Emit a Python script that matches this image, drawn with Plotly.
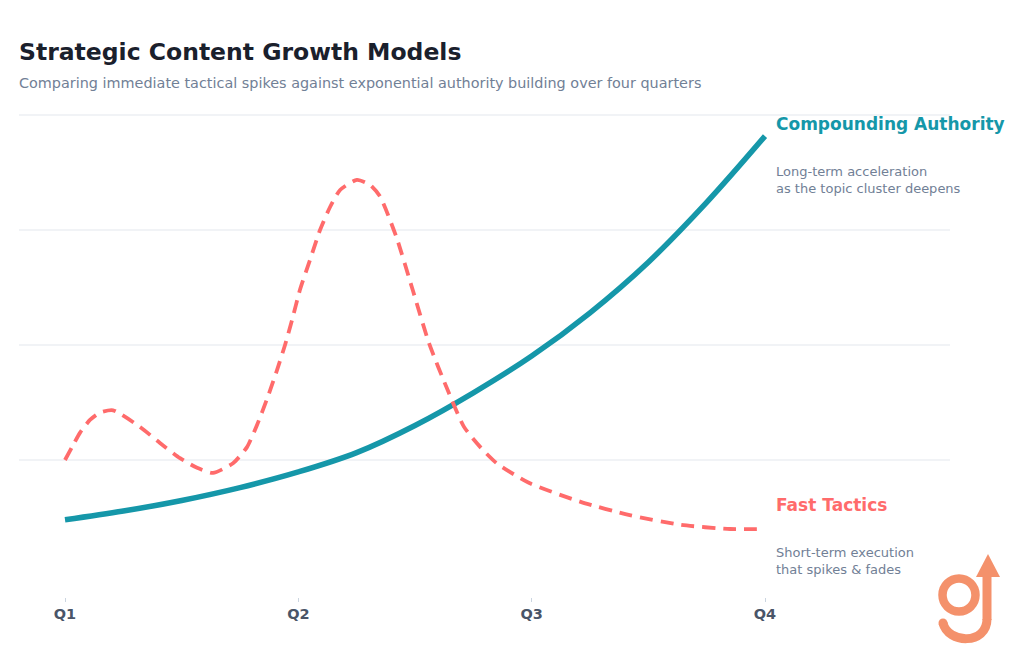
import plotly.graph_objects as go

W, H = 1024, 665

# ---- data ----
quarters = [1, 2, 3, 4]
quarter_labels = ["Q1", "Q2", "Q3", "Q4"]

authority_t = [1.0, 1.25, 1.5, 1.75, 2.0, 2.25, 2.5, 2.75, 3.0, 3.25, 3.5, 3.75, 4.0]
authority_v = [12.0, 13.9, 16.2, 19.0, 22.4, 26.6, 32.5, 39.6, 47.6, 57.0, 68.0, 81.0, 95.4]

tactics_t = [1.0, 1.03, 1.064, 1.107, 1.15, 1.206, 1.321, 1.407, 1.493, 1.566, 1.634, 1.72,
             1.78, 1.823, 1.866, 1.909, 1.943, 1.973, 2.007, 2.05, 2.093, 2.136, 2.179, 2.251,
             2.307, 2.35, 2.42, 2.49, 2.56, 2.64, 2.71, 2.78, 2.85, 2.99, 3.21, 3.42, 3.64,
             3.85, 4.0]
tactics_v = [25.0, 27.8, 30.9, 33.7, 35.3, 35.8, 32.2, 28.7, 25.4, 23.3, 22.2, 24.3,
             27.8, 32.6, 38.3, 44.6, 50.0, 55.4, 62.0, 68.5, 75.0, 80.0, 83.7, 85.9,
             84.8, 82.3, 73.5, 62.0, 50.4, 40.2, 32.2, 27.8, 24.3, 20.0, 15.9, 13.0, 10.9,
             10.0, 10.0]

grid_vals = [25, 50, 75, 100]

TEAL = "#1597A9"
CORAL = "#FF6B6B"
LOGO = "#F4916B"
DARK = "#1A202C"
GRAY = "#718096"
TICK = "#4A5568"
FONT = "DejaVu Sans"


def px(x):
    return x / W


def py(y):
    return 1 - y / H


fig = go.Figure()

fig.add_trace(go.Scatter(
    x=authority_t, y=authority_v, mode="lines",
    line=dict(color=TEAL, width=5.5, shape="spline", smoothing=1.0),
    hoverinfo="skip", showlegend=False,
))
fig.add_trace(go.Scatter(
    x=tactics_t, y=tactics_v, mode="lines",
    line=dict(color=CORAL, width=3.8, dash="13px,8px", shape="spline", smoothing=0.6),
    hoverinfo="skip", showlegend=False,
))

x_left, x_right = 19, 950
y_top, y_bot = 105, 597
q1_px, q4_px = 65, 765
ppu = (q4_px - q1_px) / 3.0
xr = [1 - (q1_px - x_left) / ppu, 4 + (x_right - q4_px) / ppu]
zero_px, hundred_px = 575, 115
vpu = (zero_px - hundred_px) / 100.0
yr = [(zero_px - y_bot) / vpu, (zero_px - y_top) / vpu]

fig.update_layout(
    width=W, height=H,
    margin=dict(l=0, r=0, t=0, b=0),
    paper_bgcolor="white", plot_bgcolor="white",
    font=dict(family=FONT),
    xaxis=dict(
        domain=[px(x_left), px(x_right)], range=xr,
        tickvals=quarters, ticktext=quarter_labels,
        ticks="outside", ticklen=4, tickwidth=1, tickcolor="#CBD5E0",
        tickfont=dict(family=FONT, size=14.5, color=TICK, weight="bold"),
        showgrid=False, zeroline=False, showline=False, fixedrange=True,
    ),
    yaxis=dict(
        domain=[py(y_bot), py(y_top)], range=yr,
        tickvals=grid_vals, showticklabels=False, ticks="",
        showgrid=True, gridcolor="#F1F3F6", gridwidth=1.5,
        zeroline=False, showline=False, fixedrange=True,
    ),
)

anns = [
    dict(text="<b>Strategic Content Growth Models</b>", x=px(17), y=py(52),
         font=dict(size=23.5, color=DARK)),
    dict(text="Comparing immediate tactical spikes against exponential authority building over four quarters",
         x=px(17), y=py(83), font=dict(size=14.4, color=GRAY)),
    dict(text="<b>Compounding Authority</b>", x=px(774), y=py(124),
         font=dict(size=17, color=TEAL)),
    dict(text="Long-term acceleration<br>as the topic cluster deepens", x=px(774), y=py(179.5),
         font=dict(size=13, color=GRAY)),
    dict(text="<b>Fast Tactics</b>", x=px(774), y=py(505),
         font=dict(size=17, color=CORAL)),
    dict(text="Short-term execution<br>that spikes &amp; fades", x=px(774), y=py(560.5),
         font=dict(size=13, color=GRAY)),
]
for a in anns:
    fig.add_annotation(xref="paper", yref="paper", xanchor="left", yanchor="middle",
                       showarrow=False, align="left", **a)

# ---- logo (decorative "g" with arrow) ----
cx, cy, r = 959, 595, 16.5
fig.add_shape(type="circle", xref="paper", yref="paper",
              x0=px(cx - r), x1=px(cx + r), y0=py(cy + r), y1=py(cy - r),
              line=dict(color=LOGO, width=8.5), fillcolor="rgba(0,0,0,0)")
fig.add_shape(type="line", xref="paper", yref="paper",
              x0=px(987), x1=px(987), y0=py(574), y1=py(620),
              line=dict(color=LOGO, width=9))
hook = (f"M {px(987)},{py(619)} C {px(987)},{py(645)} {px(948)},{py(644)} {px(943)},{py(623)}")
fig.add_shape(type="path", xref="paper", yref="paper", path=hook,
              line=dict(color=LOGO, width=9))
fig.add_shape(type="circle", xref="paper", yref="paper",
              x0=px(938.5), x1=px(947.5), y0=py(627.5), y1=py(618.5),
              line=dict(width=0), fillcolor=LOGO)
arrow = f"M {px(988)},{py(554)} L {px(1000)},{py(577)} L {px(976)},{py(577)} Z"
fig.add_shape(type="path", xref="paper", yref="paper", path=arrow,
              line=dict(width=0), fillcolor=LOGO)

fig.write_html("out.html")
